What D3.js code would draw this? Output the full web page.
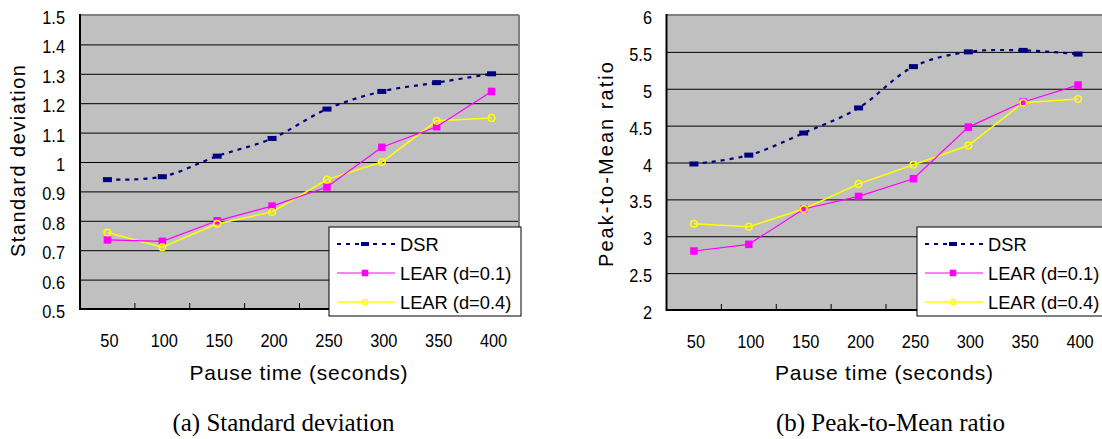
<!DOCTYPE html>
<html>
<head>
<meta charset="utf-8">
<script src="https://cdn.jsdelivr.net/npm/d3@7/dist/d3.min.js"></script>
<style>
  html, body { margin: 0; padding: 0; background: #fff; }
  svg { display: block; }
</style>
</head>
<body>
<svg id="chart" width="1102" height="439"></svg>
<script>
// ---------- data ----------
const categories = [50, 100, 150, 200, 250, 300, 350, 400];
const seriesNames = ["DSR", "LEAR (d=0.1)", "LEAR (d=0.4)"];

// (a) Standard deviation
const sdDSR    = [0.94, 0.95, 1.02, 1.08, 1.18, 1.24, 1.27, 1.30];
const sdLEAR01 = [0.735, 0.73, 0.80, 0.85, 0.915, 1.05, 1.12, 1.24];
const sdLEAR04 = [0.76, 0.71, 0.79, 0.83, 0.94, 1.00, 1.14, 1.15];
const sdTicks  = [0.5, 0.6, 0.7, 0.8, 0.9, 1, 1.1, 1.2, 1.3, 1.4, 1.5];

// (b) Peak-to-Mean ratio
const pmDSR    = [3.98, 4.10, 4.40, 4.74, 5.30, 5.50, 5.52, 5.47];
const pmLEAR01 = [2.80, 2.89, 3.37, 3.54, 3.78, 4.48, 4.82, 5.05];
const pmLEAR04 = [3.17, 3.13, 3.37, 3.71, 3.97, 4.23, 4.81, 4.86];
const pmTicks  = [2, 2.5, 3, 3.5, 4, 4.5, 5, 5.5, 6];

const xTitle = "Pause time (seconds)";

// ---------- drawing ----------
const svg = d3.select("#chart");
const SANS = "'Liberation Sans', Arial, sans-serif";
const SERIF = "'Liberation Serif', 'Times New Roman', serif";

const colDSR = "#000080", col01 = "#FF00FF", col04 = "#FFFF00";

function narrow(sel, factor) {
  sel.each(function () {
    const w = this.getComputedTextLength();
    d3.select(this).attr("textLength", w * factor).attr("lengthAdjust", "spacingAndGlyphs");
  });
}

function drawChart(o) {
  const g = svg.append("g");
  const x = d3.scaleBand().domain(categories).range([o.left, o.right]);
  const y = d3.scaleLinear().domain([o.ticks[0], o.ticks[o.ticks.length - 1]]).range([o.bottom, o.top]);
  const cx = d => x(d) + x.bandwidth() / 2;
  const W = o.right - o.left;

  // plot background
  g.append("rect").attr("x", o.left).attr("y", o.top)
    .attr("width", W).attr("height", o.bottom - o.top)
    .attr("fill", "#C0C0C0");

  // y axis with gridlines
  const gy = g.append("g").attr("transform", `translate(${o.left},0)`)
    .call(d3.axisLeft(y).tickValues(o.ticks).tickSize(-W).tickSizeOuter(0)
      .tickPadding(o.left - o.labelRight).tickFormat(d => String(d)));
  gy.select(".domain").remove();
  gy.selectAll(".tick line").attr("stroke", "#000").attr("stroke-width", 1);
  gy.selectAll(".tick text").attr("font-family", SANS).attr("font-size", 19)
    .attr("fill", "#000").attr("dy", "0.45em");
  narrow(gy.selectAll(".tick text"), 0.86);

  // x axis labels
  const gx = g.append("g").attr("transform", `translate(2,${o.bottom})`)
    .call(d3.axisBottom(x).tickSize(0).tickPadding(24.5));
  gx.select(".domain").remove();
  gx.selectAll(".tick text").attr("font-family", SANS).attr("font-size", 19).attr("fill", "#000");
  narrow(gx.selectAll(".tick text"), 0.86);

  // inner tick marks at category boundaries
  g.append("g").selectAll("line").data(categories.slice(1)).join("line")
    .attr("x1", d => x(d)).attr("x2", d => x(d))
    .attr("y1", o.bottom).attr("y2", o.bottom - 6)
    .attr("stroke", "#000").attr("stroke-width", 1);

  // border: top/right gray, left/bottom black
  g.append("line").attr("x1", o.left).attr("x2", o.right).attr("y1", o.top).attr("y2", o.top)
    .attr("stroke", "#808080").attr("stroke-width", 2);
  g.append("line").attr("x1", o.right).attr("x2", o.right).attr("y1", o.top).attr("y2", o.bottom)
    .attr("stroke", "#808080").attr("stroke-width", 2);
  g.append("line").attr("x1", o.left).attr("x2", o.left).attr("y1", o.top - 1).attr("y2", o.bottom + 1)
    .attr("stroke", "#000").attr("stroke-width", 2);
  g.append("line").attr("x1", o.left).attr("x2", o.right).attr("y1", o.bottom).attr("y2", o.bottom)
    .attr("stroke", "#000").attr("stroke-width", 2);

  // series
  const pts = vals => categories.map((c, i) => [cx(c), y(vals[i])]);
  const smooth = d3.line().curve(d3.curveCatmullRom.alpha(0.5));
  const straight = d3.line();

  // LEAR d=0.4 (yellow, circles)
  g.append("path").attr("d", straight(pts(o.s04))).attr("fill", "none")
    .attr("stroke", col04).attr("stroke-width", 1.5);
  // LEAR d=0.1 (magenta, squares)
  g.append("path").attr("d", straight(pts(o.s01))).attr("fill", "none")
    .attr("stroke", col01).attr("stroke-width", 1.2);
  // DSR (navy dotted, smoothed)
  g.append("path").attr("d", smooth(pts(o.dsr))).attr("fill", "none")
    .attr("stroke", colDSR).attr("stroke-width", 2.2).attr("stroke-dasharray", "4,5");

  g.append("g").selectAll("rect").data(pts(o.s01)).join("rect")
    .attr("x", d => d[0] - 3.75).attr("y", d => d[1] - 3.75)
    .attr("width", 7.5).attr("height", 7.5).attr("fill", col01);
  g.append("g").selectAll("circle").data(pts(o.s04)).join("circle")
    .attr("cx", d => d[0]).attr("cy", d => d[1]).attr("r", 3.3)
    .attr("fill", "none").attr("stroke", col04).attr("stroke-width", 1.5);
  g.append("g").selectAll("rect").data(pts(o.dsr)).join("rect")
    .attr("x", d => d[0] - 4.5).attr("y", d => d[1] - 2.5)
    .attr("width", 9).attr("height", 5).attr("fill", colDSR);

  // axis titles
  g.append("text").attr("x", (o.left + o.right) / 2 + o.titleDx).attr("y", 380)
    .attr("text-anchor", "middle").attr("font-family", SANS).attr("font-size", 21)
    .attr("textLength", 218).attr("lengthAdjust", "spacing").text(xTitle);
  g.append("text")
    .attr("transform", `translate(${o.yTitleX},${o.yTitleY}) rotate(-90)`)
    .attr("text-anchor", "middle").attr("font-family", SANS).attr("font-size", 20)
    .attr("textLength", o.yTitleLen).attr("lengthAdjust", "spacing").text(o.yTitle);

  // legend
  const lg = g.append("g");
  lg.append("rect").attr("x", o.legX).attr("y", 227).attr("width", 192).attr("height", 89)
    .attr("fill", "#fff").attr("stroke", "#000").attr("stroke-width", 1);
  const rows = [244, 273, 302];
  const lx1 = o.legX + 8, lx2 = o.legX + 66, lm = o.legX + 36, tx = o.legX + 71;
  lg.append("line").attr("x1", lx1).attr("x2", lx2).attr("y1", rows[0]).attr("y2", rows[0])
    .attr("stroke", colDSR).attr("stroke-width", 2).attr("stroke-dasharray", "4,5");
  lg.append("rect").attr("x", lm - 4).attr("y", rows[0] - 2).attr("width", 8).attr("height", 4).attr("fill", colDSR);
  lg.append("line").attr("x1", lx1).attr("x2", lx2).attr("y1", rows[1]).attr("y2", rows[1])
    .attr("stroke", col01).attr("stroke-width", 1.2);
  lg.append("rect").attr("x", lm - 3.3).attr("y", rows[1] - 3.3).attr("width", 6.6).attr("height", 6.6).attr("fill", col01);
  lg.append("line").attr("x1", lx1).attr("x2", lx2).attr("y1", rows[2]).attr("y2", rows[2])
    .attr("stroke", col04).attr("stroke-width", 1.5);
  lg.append("circle").attr("cx", lm).attr("cy", rows[2]).attr("r", 2.6)
    .attr("fill", "none").attr("stroke", col04).attr("stroke-width", 1.3);
  lg.selectAll("text").data(seriesNames).join("text")
    .attr("x", tx).attr("y", (d, i) => rows[i] + 7)
    .attr("font-family", SANS).attr("font-size", 18.3).attr("fill", "#000").text(d => d);

  // caption
  svg.append("text").attr("x", o.capX).attr("y", 431).attr("text-anchor", "middle")
    .attr("font-family", SERIF).attr("font-size", 25).attr("fill", "#000").text(o.caption);
}

drawChart({
  left: 80, right: 519, top: 15, bottom: 309, labelRight: 65,
  ticks: sdTicks, dsr: sdDSR, s01: sdLEAR01, s04: sdLEAR04,
  titleDx: -1, yTitle: "Standard deviation", yTitleX: 25, yTitleY: 161, yTitleLen: 192,
  legX: 329, caption: "(a) Standard deviation", capX: 283.5
});
drawChart({
  left: 666.5, right: 1105.5, top: 15, bottom: 310, labelRight: 652,
  ticks: pmTicks, dsr: pmDSR, s01: pmLEAR01, s04: pmLEAR04,
  titleDx: -2, yTitle: "Peak-to-Mean ratio", yTitleX: 613, yTitleY: 164.5, yTitleLen: 205,
  legX: 917, caption: "(b) Peak-to-Mean ratio", capX: 890.5
});
</script>
</body>
</html>
